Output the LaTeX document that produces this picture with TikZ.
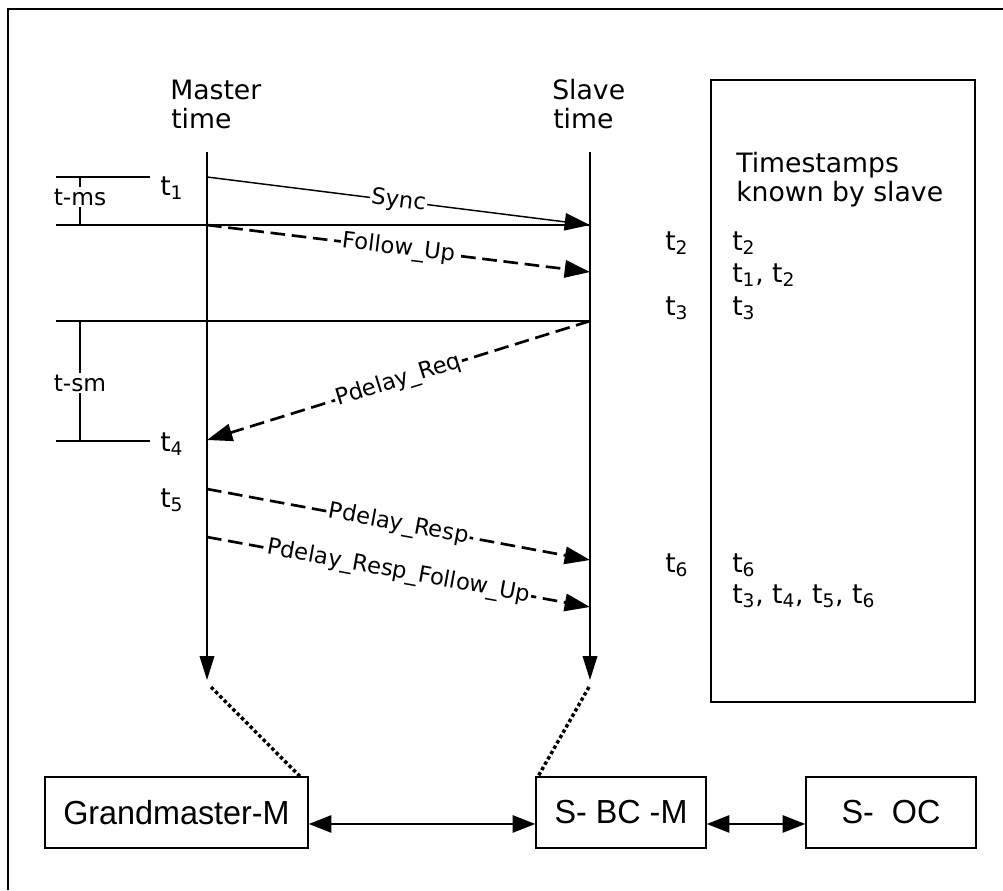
\documentclass[tikz,border=0pt]{standalone}
\usepackage{fontspec}
\setmainfont{DejaVu Sans}
\newfontfamily\arialfont{Liberation Sans}
\usetikzlibrary{arrows.meta,calc}
\newcommand{\tsb}[1]{t\textsubscript{#1}}
\tikzset{
  frameline/.style={line width=1.6pt},
  plainline/.style={line width=1.1pt},
  timeline/.style={line width=1.1pt,-{Triangle[length=18pt,width=11pt]}},
  msgsolid/.style={line width=1.1pt,-{Triangle[length=19pt,width=13pt]}},
  msgdash/.style={line width=2pt,dash pattern=on 11pt off 5pt,-{Triangle[length=19pt,width=13pt]}},
  msglabel/.style={midway,sloped,fill=white,inner sep=1pt,font=\fontsize{17}{20}\selectfont},
  bigtxt/.style={inner sep=0pt,anchor=base west,font=\fontsize{20}{24}\selectfont},
  bracetxt/.style={fill=white,inner sep=1.5pt,font=\fontsize{17.5}{20}\selectfont},
  devbox/.style={draw,line width=1.2pt,minimum height=53.25pt,inner sep=0pt,font=\arialfont\fontsize{25}{29}\selectfont},
  dotline/.style={line width=2.6pt,dash pattern=on 2.6pt off 2pt},
  duplex/.style={line width=1.4pt,{Triangle[length=17pt,width=13pt]}-{Triangle[length=17pt,width=13pt]}},
}
\begin{document}
\begin{tikzpicture}[x=0.75pt,y=-0.75pt]
\useasboundingbox (0,0) rectangle (1003,890);
% outer frame (only left and top edges visible)
\coordinate (fbl) at (8,890);
\coordinate (ftl) at (8,9);
\coordinate (ftr) at (1003,9);
\draw[frameline] (fbl) -- (ftl) -- (ftr);

% headings
\node[bigtxt] (mh1) at (170,99) {Master};
\node[bigtxt] (mh2) at (171,128) {time};
\node[bigtxt] (sh1) at (552,99) {Slave};
\node[bigtxt] (sh2) at (553,128) {time};

% time axes
\coordinate (mtop) at (207,152);
\coordinate (mbot) at (207,680);
\coordinate (stop) at (590,152);
\coordinate (sbot) at (590,680);
\draw[timeline] (mtop) -- (mbot);
\draw[timeline] (stop) -- (sbot);

% event points
\coordinate (m1) at (207,177);
\coordinate (s2) at (590,225);
\coordinate (m2) at (207,225);
\coordinate (s2f) at (590,272);
\coordinate (s3) at (590,321);
\coordinate (m4) at (207,440);
\coordinate (m5) at (207,489);
\coordinate (s6) at (590,560);
\coordinate (m5f) at (207,537);
\coordinate (s6f) at (590,607);

% reference lines
\coordinate (h1a) at (56,177);  \coordinate (h1b) at (150,177);
\coordinate (h2a) at (56,225);
\coordinate (h3a) at (56,321);
\coordinate (h4a) at (56,441);  \coordinate (h4b) at (150,441);
\draw[plainline] (h1a) -- (h1b);
\draw[plainline] (h2a) -- (s2);
\draw[plainline] (h3a) -- (s3);
\draw[plainline] (h4a) -- (h4b);
\coordinate (b1a) at (80,177); \coordinate (b1b) at (80,225);
\coordinate (b2a) at (80,321); \coordinate (b2b) at (80,441);
\draw[plainline] (b1a) -- (b1b);
\draw[plainline] (b2a) -- (b2b);
\node[bracetxt] (tms) at (80,197) {t-ms};
\node[bracetxt] (tsm) at (80,383) {t-sm};

% messages
\draw[msgsolid] (m1) -- node[msglabel] (lsync) {Sync} (s2);
\draw[msgdash] (m2) -- node[msglabel] (lfu) {Follow\_Up} (s2f);
\draw[msgdash] (s3) -- node[msglabel] (lpreq) {Pdelay\_Req} (m4);
\draw[msgdash] (m5) -- node[msglabel] (lpresp) {Pdelay\_Resp} (s6);
\draw[msgdash] (m5f) -- node[msglabel] (lprfu) {Pdelay\_Resp\_Follow\_Up} (s6f);

% master timestamps
\node[bigtxt] (t1) at (160,195) {\tsb{1}};
\node[bigtxt] (t4) at (160,451) {\tsb{4}};
\node[bigtxt] (t5) at (160,507) {\tsb{5}};
% slave timestamps
\node[bigtxt] (t2) at (665,250) {\tsb{2}};
\node[bigtxt] (t3) at (665,315) {\tsb{3}};
\node[bigtxt] (t6) at (665,572) {\tsb{6}};

% known timestamps box
\node[draw,line width=1.3pt,minimum width=198pt,minimum height=466.5pt,inner sep=0pt] (kbox) at (843,391) {};
\node[bigtxt] (kh1) at (736,172) {Timestamps};
\node[bigtxt] (kh2) at (736,201) {known by slave};
\node[bigtxt] (k1) at (732,250) {\tsb{2}};
\node[bigtxt] (k2) at (732,282) {\tsb{1}, \tsb{2}};
\node[bigtxt] (k3) at (732,315) {\tsb{3}};
\node[bigtxt] (k4) at (732,572) {\tsb{6}};
\node[bigtxt] (k5) at (732,603) {\tsb{3}, \tsb{4}, \tsb{5}, \tsb{6}};

% devices
\node[devbox,minimum width=197.25pt] (gm) at (176.5,812.5) {\scalebox{0.97}[1]{Grandmaster-M}};
\node[devbox,minimum width=127.5pt] (bc) at (621,812.5) {\scalebox{0.97}[1]{S- BC -M}};
\node[devbox,minimum width=127.5pt] (oc) at (891,812.5) {\scalebox{0.97}[1]{S-\ \ OC}};
\draw[duplex] ([yshift=-8.6pt]gm.east) -- ([yshift=-8.6pt]bc.west);
\draw[duplex] ([yshift=-8.6pt]bc.east) -- ([yshift=-8.6pt]oc.west);

% dotted links
\coordinate (mdot) at (211,687);
\coordinate (sdot) at (589,687);
\draw[dotline] (mdot) -- ([xshift=-6.75pt]gm.north east);
\draw[dotline] (sdot) -- ([xshift=2.25pt]bc.north west);
\end{tikzpicture}
\end{document}
